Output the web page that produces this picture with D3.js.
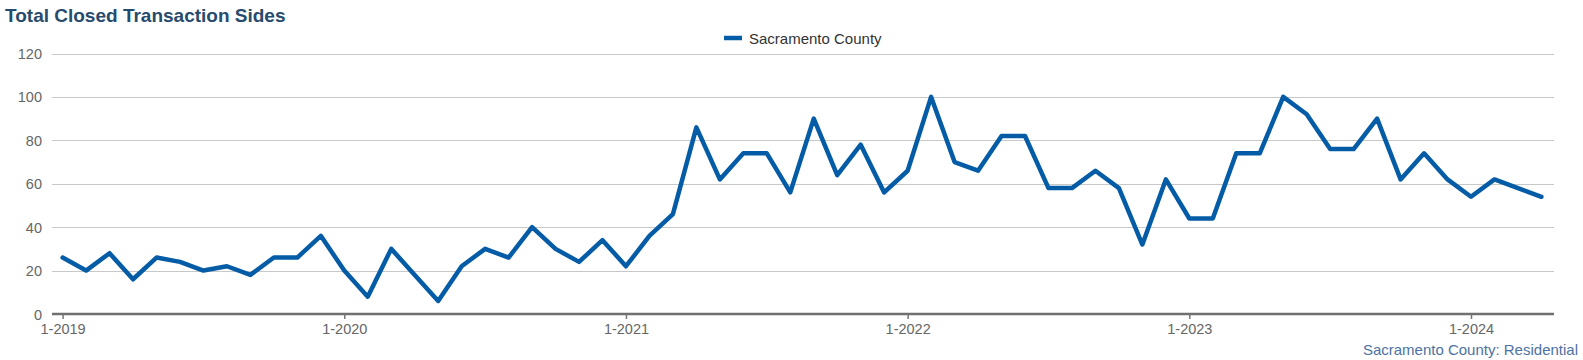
<!DOCTYPE html>
<html><head><meta charset="utf-8">
<script src="https://cdn.jsdelivr.net/npm/d3@7"></script>
<style>body{margin:0;background:#fff}svg{display:block}</style>
</head><body><svg id="c" width="1583" height="360"></svg>
<script>
const title = "Total Closed Transaction Sides";
const seriesName = "Sacramento County";
const credit = "Sacramento County: Residential";
const values = [
  26,20,28,16,26,24,20,22,18,26,26,36,
  20,8,30,18,6,22,30,26,40,30,24,34,
  22,36,46,86,62,74,74,56,90,64,78,56,
  66,100,70,66,82,82,58,58,66,58,32,62,
  44,44,74,74,100,92,76,76,90,62,74,62,
  54,62,58,54
];
const yTicks = [0,20,40,60,80,100,120];
const xTickIdx = [0,12,24,36,48,60];
const xTickLabels = ["1-2019","1-2020","1-2021","1-2022","1-2023","1-2024"];

const FONT = "'Liberation Sans',Arial,sans-serif";
const svg = d3.select("#c");
const x = d3.scaleLinear().domain([0,60]).range([62.6,1471]);
const y = d3.scaleLinear().domain([0,120]).range([314,53.5]);
const plotL = 52, plotR = 1554;

svg.append("text").attr("x",5).attr("y",22).text(title)
  .attr("font-family",FONT).attr("font-size",19)
  .attr("font-weight","bold").attr("fill","#274b6d");

// grid
svg.append("g").selectAll("line").data(yTicks.filter(d=>d>0)).join("line")
  .attr("x1",plotL).attr("x2",plotR)
  .attr("y1",d=>Math.round(y(d))+0.5).attr("y2",d=>Math.round(y(d))+0.5)
  .attr("stroke","#c8c8c8").attr("stroke-width",1);

// y labels
const yAxis = d3.axisLeft(y).tickValues(yTicks).tickSize(0).tickPadding(0);
const ya = svg.append("g").attr("transform","translate(42,0)").call(yAxis);
ya.select(".domain").remove();
ya.selectAll("text").attr("font-family",FONT)
  .attr("font-size",14.5).attr("fill","#666").attr("dy","0.35em");

// x axis
const xAxis = d3.axisBottom(x).tickValues(xTickIdx).tickFormat((d,i)=>xTickLabels[i])
  .tickSize(5).tickPadding(5);
const xa = svg.append("g").attr("transform",`translate(0,${Math.round(y(0))})`).call(xAxis);
xa.select(".domain").remove();
xa.selectAll(".tick line").attr("stroke","#777").attr("stroke-width",1.5);
xa.selectAll("text").attr("font-family",FONT)
  .attr("font-size",14.5).attr("fill","#666");
svg.append("line").attr("x1",plotL).attr("x2",plotR)
  .attr("y1",Math.round(y(0))).attr("y2",Math.round(y(0)))
  .attr("stroke","#707070").attr("stroke-width",2.5);

// line
const line = d3.line().x((d,i)=>x(i)).y(d=>y(d));
svg.append("path").datum(values).attr("d",line).attr("fill","none")
  .attr("stroke","#055ca6").attr("stroke-width",4.5)
  .attr("stroke-linejoin","round").attr("stroke-linecap","round");

// legend
svg.append("line").attr("x1",724).attr("x2",742).attr("y1",38).attr("y2",38)
  .attr("stroke","#055ca6").attr("stroke-width",4.5);
svg.append("text").attr("x",749).attr("y",43.5).text(seriesName)
  .attr("font-family",FONT).attr("font-size",15)
  .attr("fill","#333");

// credit
svg.append("text").attr("x",1578).attr("y",355).attr("text-anchor","end").text(credit)
  .attr("font-family",FONT).attr("font-size",15)
  .attr("fill","#4d72a3");
</script></body></html>
